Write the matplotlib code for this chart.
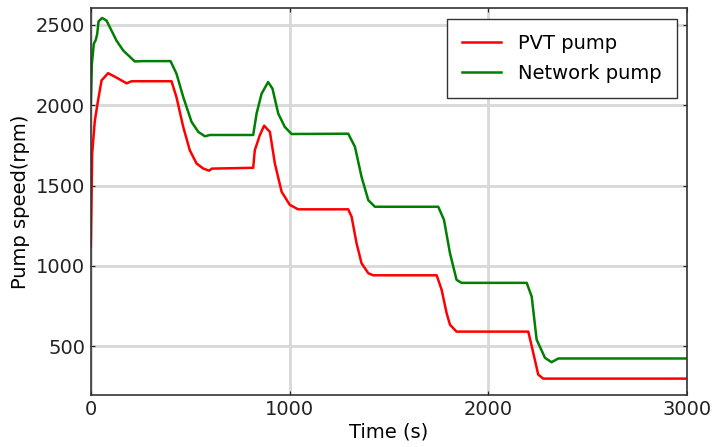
import matplotlib
matplotlib.use("Agg")
import matplotlib.pyplot as plt
import numpy as np

# time (s) and pump speeds (rpm)
t_pvt = [0, 7, 20, 34, 54, 87, 130, 180, 205, 406, 431, 465, 498, 532, 565, 595, 609,
         817, 825, 850, 872, 901, 926, 960, 1001, 1043, 1295, 1312, 1337, 1362, 1396,
         1421, 1740, 1765, 1790, 1807, 1840, 2201, 2226, 2251, 2276, 3000]
pvt_pump = [1120, 1700, 1900, 2010, 2153, 2198, 2170, 2135, 2148, 2148, 2049, 1864, 1719,
            1637, 1606, 1592, 1605, 1610, 1719, 1812, 1872, 1833, 1637, 1461, 1380, 1352,
            1352, 1306, 1141, 1017, 955, 942, 942, 852, 707, 635, 592, 592, 460, 325, 300,
            300]

t_net = [0, 5, 15, 25, 32, 39, 57, 79, 129, 163, 221, 263, 401, 431, 465, 507, 541, 574,
         599, 817, 834, 859, 892, 914, 943, 976, 1010, 1295, 1329, 1362, 1396, 1429, 1748,
         1777, 1807, 1840, 1865, 2193, 2218, 2243, 2285, 2318, 2352, 3000]
network_pump = [2000, 2250, 2380, 2405, 2440, 2520, 2541, 2525, 2401, 2339, 2271, 2273,
                2273, 2195, 2050, 1895, 1833, 1806, 1814, 1814, 1947, 2070, 2143, 2102,
                1947, 1864, 1820, 1822, 1740, 1554, 1409, 1368, 1368, 1286, 1079, 914, 895,
                895, 810, 542, 429, 402, 425, 425]

fig = plt.figure(figsize=(7.15, 4.47), dpi=100)
ax = fig.add_axes([0.127, 0.117, 0.834, 0.864])

ax.plot(t_pvt, pvt_pump, color="red", lw=1.8, label="PVT pump")
ax.plot(t_net, network_pump, color="green", lw=1.8, label="Network pump")

ax.set_xlim(0, 3000)
ax.set_ylim(200, 2600)
ax.set_xticks([0, 1000, 2000, 3000])
ax.set_yticks([500, 1000, 1500, 2000, 2500])
ax.grid(True, color="#d8d8d8", lw=2)
ax.set_axisbelow(True)
ax.tick_params(direction="in", length=3, width=0.8, labelsize=14, colors="#222222",
               top=True, right=True, pad=4)
for s in ax.spines.values():
    s.set_color("#333333")
    s.set_linewidth(1.2)

ax.set_xlabel("Time (s)", fontsize=14, labelpad=2)
ax.set_ylabel("Pump speed(rpm)", fontsize=14, labelpad=4)

leg = ax.legend(loc="upper right", bbox_to_anchor=(0.983, 0.974), fontsize=14,
                fancybox=False, framealpha=1, edgecolor="#333333", handlelength=2.0,
                handletextpad=0.85, borderpad=0.8, labelspacing=0.55, borderaxespad=0)
leg.get_frame().set_linewidth(1.0)

fig.savefig("out.png", dpi=100)
